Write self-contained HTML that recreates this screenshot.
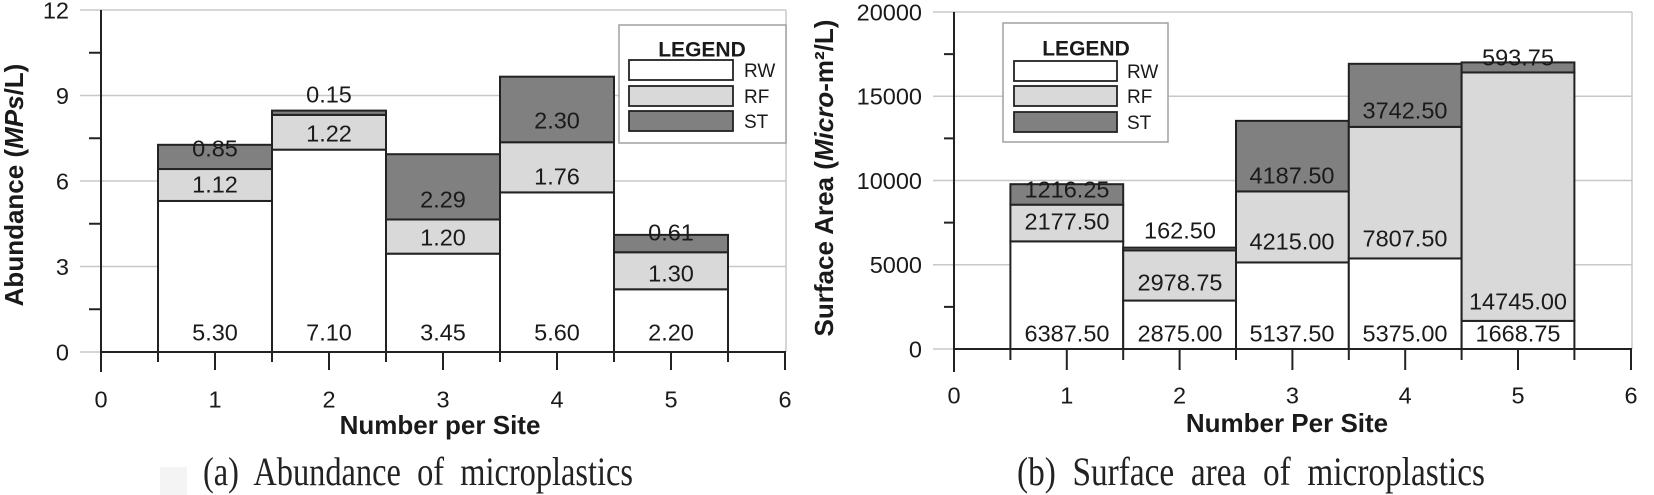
<!DOCTYPE html>
<html><head><meta charset="utf-8"><style>
html,body{margin:0;padding:0;background:#fff;}
svg{display:block;}
text{font-family:"Liberation Sans",Arial,sans-serif;fill:#1a1a1a;}
.t{font-size:23.5px;}
.c{text-anchor:middle;}
.r{text-anchor:end;}
.cap{font-family:"Liberation Serif","Times New Roman",serif;font-size:40px;fill:#222;white-space:pre;}
</style></head><body>
<svg width="1654" height="495" viewBox="0 0 1654 495" xmlns="http://www.w3.org/2000/svg">
<rect width="1654" height="495" fill="#fff"/>
<rect x="160" y="467" width="27" height="28" fill="#f4f4f4"/>

<!-- ================= LEFT CHART ================= -->
<g stroke="#c8c8c8" stroke-width="1.5">
<line x1="80" y1="10" x2="786" y2="10"/>
<line x1="80" y1="95.5" x2="786" y2="95.5"/>
<line x1="80" y1="181" x2="786" y2="181"/>
<line x1="80" y1="266.5" x2="786" y2="266.5"/>
<line x1="80" y1="352" x2="101" y2="352"/>
<line x1="786" y1="10" x2="786" y2="352"/>
</g>
<g stroke="#222" stroke-width="2">
<rect x="158" y="200.95" width="114" height="151.05" fill="#fff"/>
<rect x="158" y="169.03" width="114" height="31.92" fill="#d9d9d9"/>
<rect x="158" y="144.8" width="114" height="24.23" fill="#808080"/>
<rect x="272" y="149.65" width="114" height="202.35" fill="#fff"/>
<rect x="272" y="114.88" width="114" height="34.77" fill="#d9d9d9"/>
<rect x="272" y="110.6" width="114" height="4.28" fill="#808080"/>
<rect x="386" y="253.68" width="114" height="98.32" fill="#fff"/>
<rect x="386" y="219.48" width="114" height="34.2" fill="#d9d9d9"/>
<rect x="386" y="154.21" width="114" height="65.27" fill="#808080"/>
<rect x="500" y="192.4" width="114" height="159.6" fill="#fff"/>
<rect x="500" y="142.24" width="114" height="50.16" fill="#d9d9d9"/>
<rect x="500" y="76.69" width="114" height="65.55" fill="#808080"/>
<rect x="614" y="289.3" width="114" height="62.7" fill="#fff"/>
<rect x="614" y="252.25" width="114" height="37.05" fill="#d9d9d9"/>
<rect x="614" y="234.87" width="114" height="17.38" fill="#808080"/>
</g>
<!-- legend left -->
<rect x="619" y="25" width="167" height="118" fill="#fff" stroke="#a0a0a0" stroke-width="1.5"/>
<text x="702" y="56.5" class="c" style="font-size:21px;font-weight:bold;">LEGEND</text>
<g stroke="#222" stroke-width="1.8">
<rect x="629" y="60" width="104" height="20" fill="#fff"/>
<rect x="629" y="86" width="104" height="20" fill="#d9d9d9"/>
<rect x="629" y="111" width="104" height="20" fill="#808080"/>
</g>
<text x="744" y="77" style="font-size:19px;">RW</text>
<text x="744" y="103" style="font-size:19px;">RF</text>
<text x="744" y="128" style="font-size:19px;">ST</text>
<!-- axes left -->
<g stroke="#222" stroke-width="2">
<line x1="101" y1="10" x2="101" y2="372"/>
<line x1="101" y1="352" x2="786" y2="352"/>
<line x1="89" y1="309.25" x2="101" y2="309.25"/>
<line x1="89" y1="223.75" x2="101" y2="223.75"/>
<line x1="89" y1="138.25" x2="101" y2="138.25"/>
<line x1="89" y1="52.75" x2="101" y2="52.75"/>
<line x1="215" y1="352" x2="215" y2="370"/>
<line x1="329" y1="352" x2="329" y2="370"/>
<line x1="443" y1="352" x2="443" y2="370"/>
<line x1="557" y1="352" x2="557" y2="370"/>
<line x1="671" y1="352" x2="671" y2="370"/>
<line x1="785" y1="352" x2="785" y2="370"/>
<line x1="158" y1="352" x2="158" y2="362"/>
<line x1="272" y1="352" x2="272" y2="362"/>
<line x1="386" y1="352" x2="386" y2="362"/>
<line x1="500" y1="352" x2="500" y2="362"/>
<line x1="614" y1="352" x2="614" y2="362"/>
<line x1="728" y1="352" x2="728" y2="362"/>
</g>
<text x="69" y="18.4" class="t r">12</text>
<text x="69" y="103.9" class="t r">9</text>
<text x="69" y="189.4" class="t r">6</text>
<text x="69" y="274.9" class="t r">3</text>
<text x="69" y="360.4" class="t r">0</text>
<text x="101" y="407.4" class="t c">0</text>
<text x="215" y="407.4" class="t c">1</text>
<text x="329" y="407.4" class="t c">2</text>
<text x="443" y="407.4" class="t c">3</text>
<text x="557" y="407.4" class="t c">4</text>
<text x="671" y="407.4" class="t c">5</text>
<text x="785" y="407.4" class="t c">6</text>
<text x="440" y="434" class="c" style="font-size:26px;font-weight:bold;">Number per Site</text>
<text transform="translate(23,185) rotate(-90)" class="c" style="font-size:26px;font-weight:bold;">Abundance (<tspan font-style="italic">MPs</tspan>/L)</text>
<!-- data labels left -->
<text x="215" y="340.4" class="t c">5.30</text>
<text x="215" y="192.4" class="t c">1.12</text>
<text x="215" y="156.4" class="t c">0.85</text>
<text x="329" y="340.4" class="t c">7.10</text>
<text x="329" y="141.4" class="t c">1.22</text>
<text x="329" y="102.4" class="t c">0.15</text>
<text x="443" y="340.4" class="t c">3.45</text>
<text x="443" y="245.4" class="t c">1.20</text>
<text x="443" y="207.4" class="t c">2.29</text>
<text x="557" y="340.4" class="t c">5.60</text>
<text x="557" y="184.4" class="t c">1.76</text>
<text x="557" y="128.4" class="t c">2.30</text>
<text x="671" y="340.4" class="t c">2.20</text>
<text x="671" y="281.4" class="t c">1.30</text>
<text x="671" y="240.4" class="t c">0.61</text>
<text x="203" y="485" class="cap" textLength="430" lengthAdjust="spacingAndGlyphs">(a)  Abundance  of  microplastics</text>

<!-- ================= RIGHT CHART ================= -->
<g stroke="#c8c8c8" stroke-width="1.5">
<line x1="933" y1="12" x2="1632" y2="12"/>
<line x1="933" y1="96.25" x2="1632" y2="96.25"/>
<line x1="933" y1="180.5" x2="1632" y2="180.5"/>
<line x1="933" y1="264.75" x2="1632" y2="264.75"/>
<line x1="933" y1="349" x2="954" y2="349"/>
<line x1="1632" y1="12" x2="1632" y2="349"/>
</g>
<g stroke="#222" stroke-width="2">
<rect x="1010.4" y="241.37" width="112.8" height="107.63" fill="#fff"/>
<rect x="1010.4" y="204.68" width="112.8" height="36.69" fill="#d9d9d9"/>
<rect x="1010.4" y="184.19" width="112.8" height="20.49" fill="#808080"/>
<rect x="1123.2" y="300.56" width="112.8" height="48.44" fill="#fff"/>
<rect x="1123.2" y="250.36" width="112.8" height="50.2" fill="#d9d9d9"/>
<rect x="1123.2" y="247.63" width="112.8" height="2.73" fill="#808080"/>
<rect x="1236" y="262.43" width="112.8" height="86.57" fill="#fff"/>
<rect x="1236" y="191.41" width="112.8" height="71.02" fill="#d9d9d9"/>
<rect x="1236" y="120.85" width="112.8" height="70.56" fill="#808080"/>
<rect x="1348.8" y="258.43" width="112.8" height="90.57" fill="#fff"/>
<rect x="1348.8" y="126.88" width="112.8" height="131.55" fill="#d9d9d9"/>
<rect x="1348.8" y="63.81" width="112.8" height="63.07" fill="#808080"/>
<rect x="1461.6" y="320.88" width="112.8" height="28.12" fill="#fff"/>
<rect x="1461.6" y="72.43" width="112.8" height="248.45" fill="#d9d9d9"/>
<rect x="1461.6" y="62.42" width="112.8" height="10.01" fill="#808080"/>
</g>
<!-- legend right -->
<rect x="1003" y="23" width="165" height="119" fill="#fff" stroke="#a0a0a0" stroke-width="1.5"/>
<text x="1086" y="55.5" class="c" style="font-size:21px;font-weight:bold;">LEGEND</text>
<g stroke="#222" stroke-width="1.8">
<rect x="1014" y="61" width="103" height="20" fill="#fff"/>
<rect x="1014" y="86" width="103" height="20" fill="#d9d9d9"/>
<rect x="1014" y="112" width="103" height="20" fill="#808080"/>
</g>
<text x="1127" y="78" style="font-size:19px;">RW</text>
<text x="1127" y="103" style="font-size:19px;">RF</text>
<text x="1127" y="129" style="font-size:19px;">ST</text>
<!-- axes right -->
<g stroke="#222" stroke-width="2">
<line x1="954" y1="12" x2="954" y2="372"/>
<line x1="954" y1="349" x2="1632" y2="349"/>
<line x1="944" y1="306.88" x2="954" y2="306.88"/>
<line x1="944" y1="222.63" x2="954" y2="222.63"/>
<line x1="944" y1="138.38" x2="954" y2="138.38"/>
<line x1="944" y1="54.13" x2="954" y2="54.13"/>
<line x1="1066.8" y1="349" x2="1066.8" y2="370"/>
<line x1="1179.6" y1="349" x2="1179.6" y2="370"/>
<line x1="1292.4" y1="349" x2="1292.4" y2="370"/>
<line x1="1405.2" y1="349" x2="1405.2" y2="370"/>
<line x1="1518" y1="349" x2="1518" y2="370"/>
<line x1="1631" y1="349" x2="1631" y2="370"/>
<line x1="1010.4" y1="349" x2="1010.4" y2="360"/>
<line x1="1123.2" y1="349" x2="1123.2" y2="360"/>
<line x1="1236" y1="349" x2="1236" y2="360"/>
<line x1="1348.8" y1="349" x2="1348.8" y2="360"/>
<line x1="1461.6" y1="349" x2="1461.6" y2="360"/>
<line x1="1574.4" y1="349" x2="1574.4" y2="360"/>
</g>
<text x="922" y="20.4" class="t r">20000</text>
<text x="922" y="104.65" class="t r">15000</text>
<text x="922" y="188.9" class="t r">10000</text>
<text x="922" y="273.15" class="t r">5000</text>
<text x="922" y="357.4" class="t r">0</text>
<text x="954" y="403.4" class="t c">0</text>
<text x="1066.8" y="403.4" class="t c">1</text>
<text x="1179.6" y="403.4" class="t c">2</text>
<text x="1292.4" y="403.4" class="t c">3</text>
<text x="1405.2" y="403.4" class="t c">4</text>
<text x="1518" y="403.4" class="t c">5</text>
<text x="1631" y="403.4" class="t c">6</text>
<text x="1287" y="432" class="c" style="font-size:26px;font-weight:bold;">Number Per Site</text>
<text transform="translate(833,178) rotate(-90)" class="c" style="font-size:26px;font-weight:bold;">Surface Area (<tspan font-style="italic">Micro</tspan>-m²/L)</text>
<!-- data labels right -->
<text x="1067" y="341.4" class="t c">6387.50</text>
<text x="1067" y="229.4" class="t c">2177.50</text>
<text x="1067" y="197.4" class="t c">1216.25</text>
<text x="1180" y="341.4" class="t c">2875.00</text>
<text x="1180" y="290.4" class="t c">2978.75</text>
<text x="1180" y="238.4" class="t c">162.50</text>
<text x="1292" y="341.4" class="t c">5137.50</text>
<text x="1292" y="249.4" class="t c">4215.00</text>
<text x="1292" y="183.4" class="t c">4187.50</text>
<text x="1405" y="341.4" class="t c">5375.00</text>
<text x="1405" y="246.4" class="t c">7807.50</text>
<text x="1405" y="118.4" class="t c">3742.50</text>
<text x="1518" y="341.4" class="t c">1668.75</text>
<text x="1518" y="309.4" class="t c">14745.00</text>
<text x="1518" y="65.4" class="t c">593.75</text>
<text x="1017" y="485" class="cap" textLength="468" lengthAdjust="spacingAndGlyphs">(b)  Surface  area  of  microplastics</text>
</svg>
</body></html>
